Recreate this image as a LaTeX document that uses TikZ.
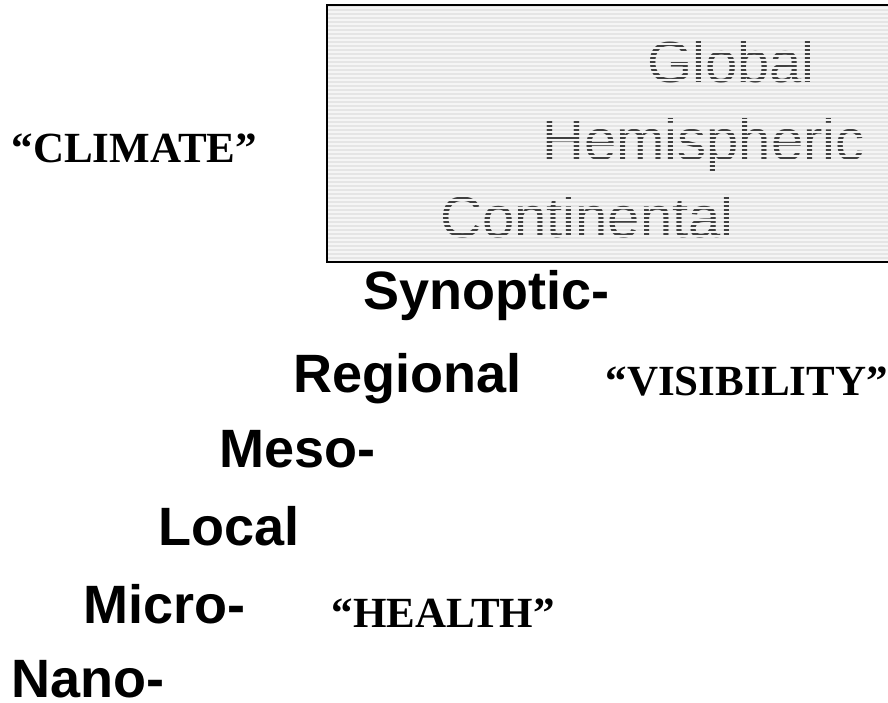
\documentclass[tikz,border=0pt]{standalone}
\usepackage{fontspec}
\newfontfamily\arialf{Liberation Sans}
\newfontfamily\timesf{Liberation Serif}
\begin{document}
\begin{tikzpicture}[x=1pt,y=-1pt,
  scalelbl/.style={anchor=base west,inner sep=0pt,font=\arialf\bfseries\fontsize{54}{54}\selectfont},
  quotelbl/.style={anchor=base west,inner sep=0pt,font=\timesf\bfseries\fontsize{43}{43}\selectfont},
  boxlbl/.style={anchor=base west,inner sep=0pt,font=\arialf\fontsize{58}{58}\selectfont,text=black!75},
  stripe/.style={line width=2pt,draw=black!4}]
\useasboundingbox (0,0) rectangle (888,702);
\fill[black!10] (327,5) rectangle (895,262);
\node[boxlbl] (global) at (647,82) {Global};
\node[boxlbl] (hemi) at (542,160) {Hemispheric};
\node[boxlbl] (conti) at (440,237) {Continental};
\foreach \yy in {8,12,...,260} \draw[stripe] (328,\yy) -- (895,\yy);
\draw[line width=2pt] (327,5) rectangle (895,262);
\node[quotelbl] (climate) at (11.5,162) {“CLIMATE”};
\node[scalelbl] (synoptic) at (363,309) {Synoptic-};
\node[scalelbl] (regional) at (293,392) {Regional};
\node[quotelbl] (visibility) at (605.5,395) {“VISIBILITY”};
\node[scalelbl] (meso) at (219,467) {Meso-};
\node[scalelbl] (local) at (158,545) {Local};
\node[scalelbl] (micro) at (83,623) {Micro-};
\node[quotelbl] (health) at (331.5,627) {“HEALTH”};
\node[scalelbl] (nano) at (11,697) {Nano-};
\end{tikzpicture}
\end{document}
